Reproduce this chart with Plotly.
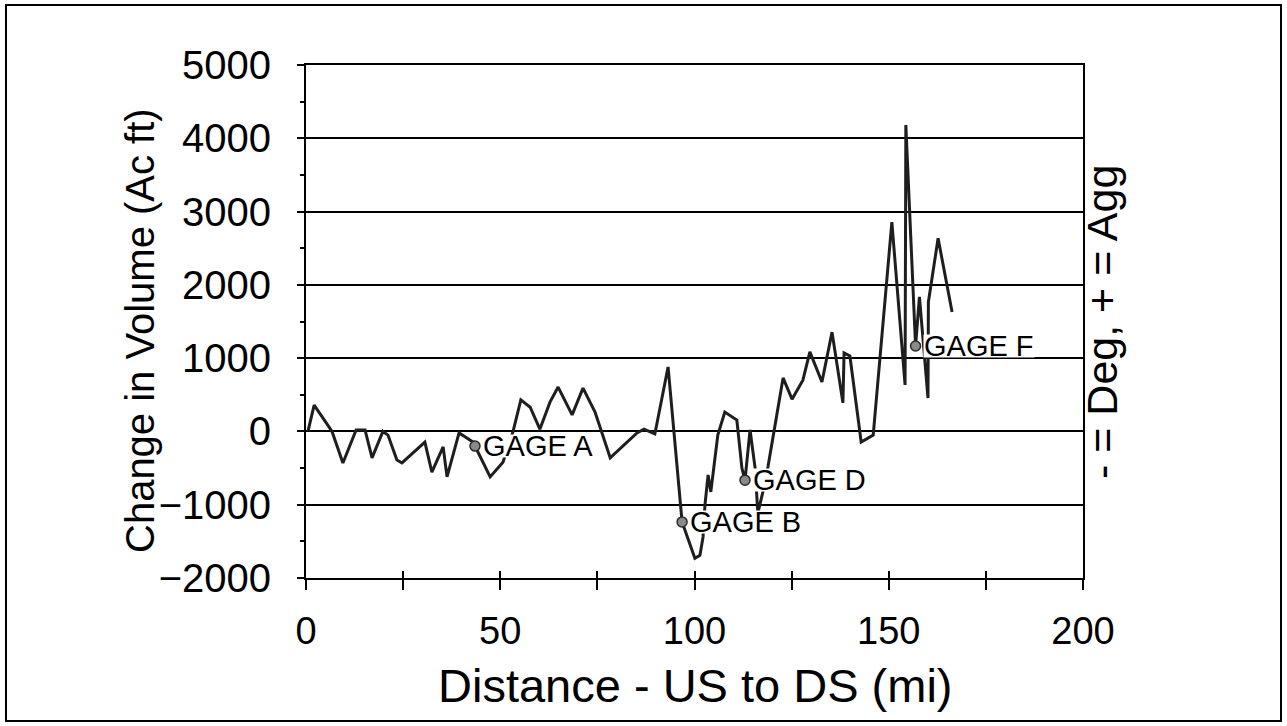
import plotly.graph_objects as go

# Series: change in volume along the river
distance_mi = [0.5, 2.1, 6.7, 9.5, 12.9, 15.2, 17.0, 19.8, 21.1, 23.4, 24.7, 30.6, 32.4, 35.3,
               36.3, 39.4, 43.0, 43.5, 47.4, 50.7, 53.3, 55.3, 57.7, 60.2, 62.8, 64.9, 68.5,
               71.3, 74.4, 78.3, 85.2, 87.0, 89.8, 93.2, 96.8, 100.1, 101.4, 102.2, 102.7,
               103.5, 104.2, 106.0, 107.8, 110.9, 112.2, 113.0, 114.3, 115.6, 116.3, 117.6,
               118.9, 122.8, 125.1, 127.9, 129.7, 132.8, 135.4, 138.2, 138.5, 140.0, 142.9,
               146.0, 150.8, 154.2, 154.4, 156.9, 157.9, 160.1, 160.2, 162.7, 166.3]
volume_acft = [0, 360, 0, -430, 20, 20, -360, 0, -50, -390, -430, -145, -555, -210,
               -620, -20, -145, -200, -620, -420, 0, 430, 330, 30, 400, 605, 225,
               590, 265, -360, -20, 30, -35, 880, -1235, -1730, -1690, -1440, -1000,
               -595, -825, -50, 265, 155, -500, -665, 20, -500, -1115, -825,
               -485, 730, 440, 700, 1085, 675, 1355, 390, 1070, 1030, -145,
               -50, 2855, 635, 4180, 1165, 1835, 455, 1765, 2635, 1630]

# Gage locations (points of the series)
gage_names = ["GAGE A", "GAGE B", "GAGE D", "GAGE F"]
gage_x = [43.5, 96.8, 113.0, 156.9]
gage_y = [-200, -1235, -665, 1165]

x_ticks = [0, 50, 100, 150, 200]
y_ticks = [-2000, -1000, 0, 1000, 2000, 3000, 4000, 5000]

FONT = "Liberation Sans, Arial, sans-serif"

# plot area in pixels
L, R, T, B = 306, 1083, 65, 578
W, H = R - L, B - T


def px(xp):
    return (xp - L) / W


def py(yp):
    return (B - yp) / H


fig = go.Figure()
fig.add_trace(go.Scatter(
    x=distance_mi, y=volume_acft, mode="lines",
    line=dict(color="#1e1e1e", width=3),
    showlegend=False, hoverinfo="skip"))
fig.add_trace(go.Scatter(
    x=gage_x, y=gage_y, mode="markers",
    marker=dict(size=10, color="#8a8a8a", line=dict(color="#2a2a2a", width=1.5)),
    showlegend=False, hoverinfo="skip"))
# helper trace so the inner tick axis is drawn
fig.add_trace(go.Scatter(x=[None], y=[None], xaxis="x2", yaxis="y",
                         showlegend=False, hoverinfo="skip"))

annotations = []
for name, gx, gy in zip(gage_names, gage_x, gage_y):
    annotations.append(dict(
        x=gx, y=gy, xref="x", yref="y", text=name, showarrow=False,
        xanchor="left", yanchor="middle", xshift=7, bgcolor="white",
        borderpad=0, height=22,
        font=dict(family=FONT, size=29, color="black")))

annotations += [
    dict(x=px(140), y=py(331), xref="paper", yref="paper", text="Change in Volume (Ac ft)",
         textangle=-90, showarrow=False, xanchor="center", yanchor="middle",
         font=dict(family=FONT, size=40, color="black")),
    dict(x=px(1102), y=py(322), xref="paper", yref="paper", text="- = Deg, + = Agg",
         textangle=-90, showarrow=False, xanchor="center", yanchor="middle",
         font=dict(family=FONT, size=43, color="black")),
    dict(x=px(695), y=py(685), xref="paper", yref="paper", text="Distance - US to DS (mi)",
         showarrow=False, xanchor="center", yanchor="middle",
         font=dict(family=FONT, size=47, color="black")),
]

fig.update_layout(
    width=1287, height=726,
    margin=dict(l=L, r=1287 - R, t=T, b=726 - B, pad=0),
    paper_bgcolor="white", plot_bgcolor="white",
    font=dict(family=FONT, color="black"),
    xaxis=dict(range=[0, 200], tickvals=x_ticks, ticks="outside", ticklen=10,
               tickwidth=1.5, tickcolor="black", showgrid=False, zeroline=False,
               showline=True, linecolor="black", linewidth=2, mirror=True,
               tickfont=dict(family=FONT, size=38, color="black"),
               ticklabelstandoff=8,
               minor=dict(dtick=25, tick0=0, ticks="outside", ticklen=10, tickwidth=1.5,
                          tickcolor="black", showgrid=False)),
    xaxis2=dict(range=[0, 200], overlaying="x", anchor="y", side="bottom",
                dtick=25, tick0=0, ticks="inside", ticklen=7, tickwidth=1.5,
                tickcolor="black", showticklabels=False, showgrid=False,
                zeroline=False, showline=False),
    yaxis=dict(range=[-2000, 5000], tickvals=y_ticks, ticks="outside", ticklen=7,
               tickwidth=1.5, tickcolor="black", showgrid=True, gridcolor="black",
               gridwidth=1.5, zeroline=False, showline=True, linecolor="black",
               linewidth=2, mirror=True,
               tickfont=dict(family=FONT, size=40, color="black"),
               ticklabelstandoff=18,
               minor=dict(dtick=500, tick0=0, ticks="outside", ticklen=4, tickwidth=1.5,
                          tickcolor="black", showgrid=False)),
    annotations=annotations,
    shapes=[dict(type="rect", xref="paper", yref="paper",
                 x0=px(6), x1=px(1281), y0=py(721), y1=py(5),
                 line=dict(color="black", width=2), layer="above")],
)

fig.write_html("out.html", config={"displayModeBar": False},
               post_script="document.body.style.margin='0px';document.body.style.overflow='hidden';")
